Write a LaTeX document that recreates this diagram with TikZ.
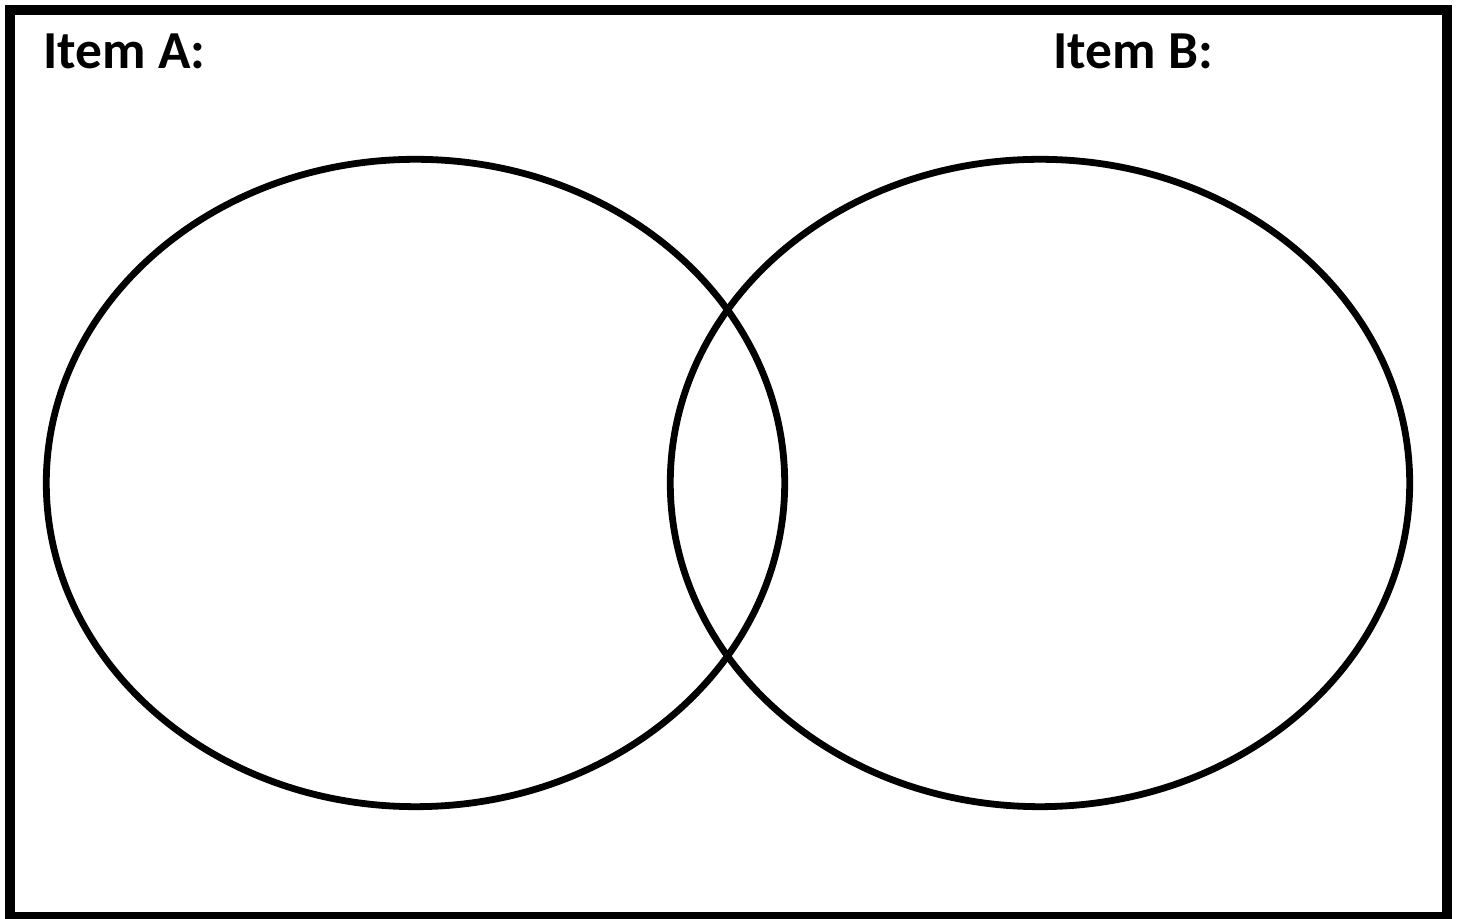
\documentclass[tikz,border=0pt]{standalone}
\usepackage{fontspec}
\setmainfont{Carlito}

\begin{document}
\begin{tikzpicture}[x=0.01cm,y=-0.01cm]
    % Fix the page size
    \useasboundingbox (0,0) rectangle (1459,919);

    % Draw outer frame
    \draw[line width=0.1cm] (10,10) rectangle (1447,917);

    % Draw the two sets
    \coordinate (A) at (415.5,483);
    \coordinate (B) at (1040,483);
    \draw[line width=0.068cm] (A) ellipse [x radius=3.69cm, y radius=3.235cm];
    \draw[line width=0.068cm] (B) ellipse [x radius=3.695cm, y radius=3.235cm];

    % Set labels
    \node[anchor=base west,inner sep=0pt,font=\fontsize{15.2}{18}\selectfont\bfseries] (labelA) at (43,69) {Item A:};
    \node[anchor=base west,inner sep=0pt,font=\fontsize{15.2}{18}\selectfont\bfseries] (labelB) at (1053,69) {Item B:};
\end{tikzpicture}
\end{document}
